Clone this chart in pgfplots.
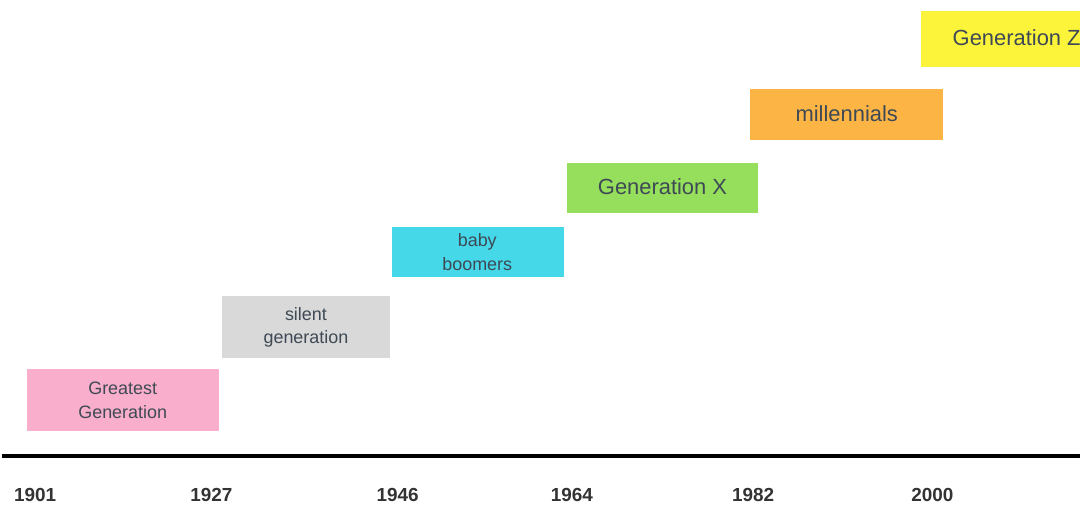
\documentclass[border=0pt]{standalone}
\usepackage{pgfplots}
\pgfplotsset{compat=1.18}
\usepackage{fontspec}
\setmainfont{Liberation Sans}
\definecolor{cpink}{HTML}{F9AFCB}
\definecolor{cgray}{HTML}{D9D9D9}
\definecolor{ccyan}{HTML}{45D8E8}
\definecolor{cgreen}{HTML}{95DF5C}
\definecolor{corange}{HTML}{FCB445}
\definecolor{cyellow}{HTML}{FBF43A}
\definecolor{ctext}{HTML}{3E4955}
\definecolor{ctick}{HTML}{333333}
\begin{document}
\begin{tikzpicture}
\begin{axis}[
  scale only axis,
  width=541pt, height=228.5pt,
  xmin=0, xmax=1082, ymin=49, ymax=506,
  axis x line=bottom, axis y line=none,
  axis line style={line width=2.2pt,-},
  xtick={33,210,397,572,754,934},
  xticklabels={1901,1927,1946,1964,1982,2000},
  major tick length=0pt,
  x tick label style={font=\fontsize{9.5}{11}\selectfont\bfseries, text=ctick, yshift=-12.5pt},
  clip=false,
]
\addplot[fill=cpink, draw=none] coordinates {(25,74)(218,74)(218,136)(25,136)};
\addplot[fill=cgray, draw=none] coordinates {(221,147)(389,147)(389,209)(221,209)};
\addplot[fill=ccyan, draw=none] coordinates {(391,228)(564,228)(564,279)(391,279)};
\addplot[fill=cgreen, draw=none] coordinates {(567,293)(759,293)(759,343)(567,343)};
\addplot[fill=corange, draw=none] coordinates {(751,366)(945,366)(945,417)(751,417)};
\addplot[fill=cyellow, draw=none] coordinates {(923,439)(1082,439)(1082,495)(923,495)};
\node[align=center, text=ctext, font=\fontsize{9}{12}\selectfont] at (axis cs:121,105) {Greatest\\Generation};
\node[align=center, text=ctext, font=\fontsize{9}{12}\selectfont] at (axis cs:305,178) {silent\\generation};
\node[align=center, text=ctext, font=\fontsize{9}{12}\selectfont] at (axis cs:477,253) {baby\\boomers};
\node[align=center, text=ctext, font=\fontsize{11}{13}\selectfont] at (axis cs:663,319) {Generation X};
\node[align=center, text=ctext, font=\fontsize{11}{13}\selectfont] at (axis cs:848,392) {millennials};
\node[anchor=west, inner sep=0pt, text=ctext, font=\fontsize{11}{13}\selectfont] at (axis cs:954,468) {Generation Z};
\path[use as bounding box] (axis cs:0,0) rectangle (axis cs:1082,506);
\end{axis}
\end{tikzpicture}
\end{document}
